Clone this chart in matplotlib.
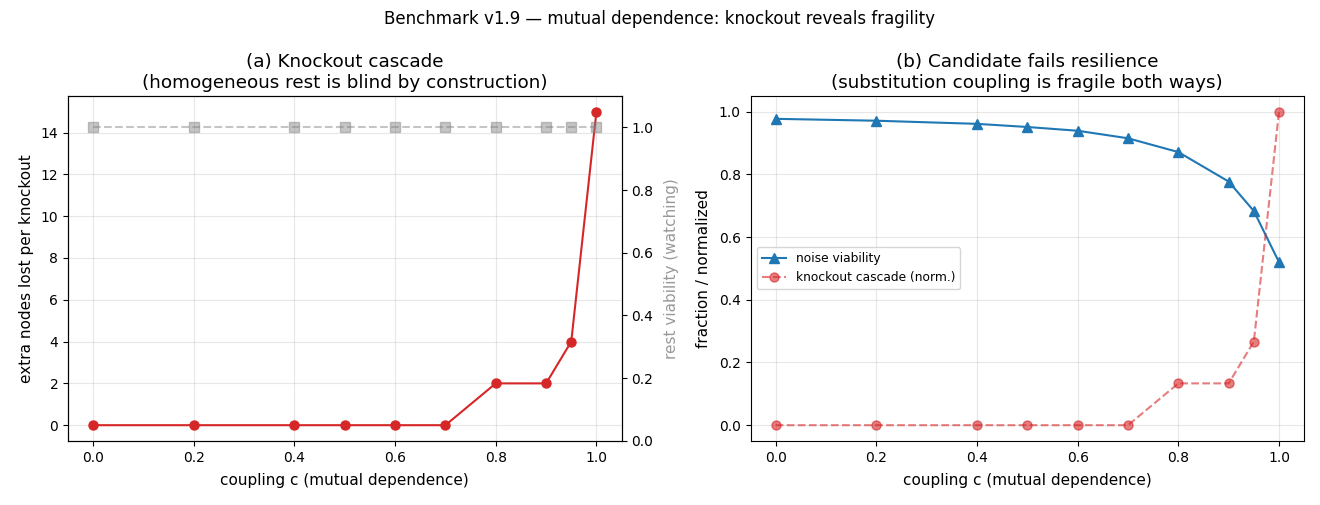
import matplotlib
matplotlib.use("Agg")
import matplotlib.pyplot as plt

coupling = [0.0, 0.2, 0.4, 0.5, 0.6, 0.7, 0.8, 0.9, 0.95, 1.0]
extra_lost = [0, 0, 0, 0, 0, 0, 2, 2, 4, 15]
rest_viability = [1.0, 1.0, 1.0, 1.0, 1.0, 1.0, 1.0, 1.0, 1.0, 1.0]
noise_viability = [0.977, 0.971, 0.961, 0.951, 0.939, 0.915, 0.871, 0.777, 0.683, 0.52]
cascade_norm = [v / max(extra_lost) for v in extra_lost]

fig, (axL, axR) = plt.subplots(1, 2, figsize=(13.2, 5.05), dpi=100)
fig.suptitle("Benchmark v1.9 \u2014 mutual dependence: knockout reveals fragility", fontsize=12)

axL.plot(coupling, extra_lost, "o-", color="#d62728", markersize=6.5)
axL.set_xlabel("coupling c (mutual dependence)", fontsize=11, labelpad=6)
axL.set_ylabel("extra nodes lost per knockout", fontsize=11, labelpad=5)
axL.set_title("(a) Knockout cascade\n(homogeneous rest is blind by construction)", fontsize=13.2)
axL.grid(True, alpha=0.3)
axL2 = axL.twinx()
axL2.plot(coupling, rest_viability, "s--", color="gray", alpha=0.45, markersize=7.5)
axL2.set_ylim(0, 1.1)
axL2.set_ylabel("rest viability (watching)", fontsize=11, color="#999999", labelpad=8)

axR.plot(coupling, noise_viability, "^-", color="#1f77b4", markersize=7, label="noise viability")
axR.plot(coupling, cascade_norm, "o--", color="#d62728", alpha=0.6, markersize=6.5, label="knockout cascade (norm.)")
axR.set_xlabel("coupling c (mutual dependence)", fontsize=11, labelpad=6)
axR.set_ylabel("fraction / normalized", fontsize=11, labelpad=6)
axR.set_title("(b) Candidate fails resilience\n(substitution coupling is fragile both ways)", fontsize=13.2)
axR.grid(True, alpha=0.3)
axR.legend(loc="center left", fontsize=8.8)

fig.subplots_adjust(left=0.0515, right=0.988, bottom=0.127, top=0.81, wspace=0.233)
fig.savefig("out.png", dpi=100)
